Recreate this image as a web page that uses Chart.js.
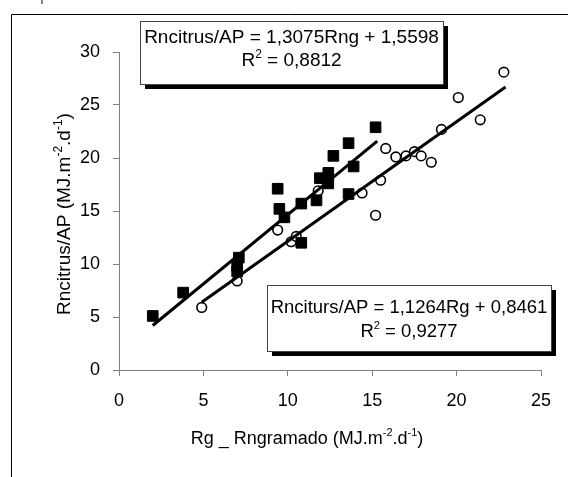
<!DOCTYPE html>
<html>
<head>
<meta charset="utf-8">
<script src="https://cdn.jsdelivr.net/npm/chart.js@4"></script>
<style>
html, body { margin: 0; padding: 0; background: #fff; }
#wrap { position: relative; width: 568px; height: 477px; }
</style>
</head>
<body>
<div id="wrap"><canvas id="rnChart" width="568" height="477"></canvas></div>
<script>
var xTicks = [0, 5, 10, 15, 20, 25];
var yTicks = [0, 5, 10, 15, 20, 25, 30];

// Rncitrus/AP x Rngramado (quadrados)
var rngX = [2.0, 3.8, 7.1, 7.0, 7.0, 9.4, 9.5, 9.8, 10.8, 10.8, 11.7, 11.9, 12.4, 12.4, 12.7, 13.6, 13.9, 13.6, 15.2];
var rngY = [5.1, 7.3, 10.6, 9.8, 9.3, 17.1, 15.2, 14.4, 15.7, 12.0, 16.0, 18.1, 18.6, 17.6, 20.2, 21.4, 19.2, 16.6, 22.9];

// Rncitrus/AP x Rg (circulos)
var rgX = [4.9, 7.0, 9.4, 10.2, 10.5, 11.8, 14.4, 15.2, 15.5, 15.8, 16.4, 17.0, 17.5, 17.9, 18.5, 19.1, 20.1, 21.4, 22.8];
var rgY = [5.9, 8.4, 13.2, 12.1, 12.6, 16.9, 16.7, 14.6, 17.9, 20.9, 20.1, 20.2, 20.6, 20.2, 19.6, 22.7, 25.7, 23.6, 28.1];

// linhas de tendencia (extremos)
var trendRngX = [2.0, 15.3];
var trendRngY = [4.2, 21.6];
var trendRgX = [4.9, 22.9];
var trendRgY = [6.4, 26.7];

var eqRng = ["Rncitrus/AP = 1,3075Rng + 1,5598", "0,8812"];
var eqRg = ["Rnciturs/AP = 1,1264Rg + 0,8461", "0,9277"];

function toPoints(xs, ys) {
    return xs.map(function (x, i) { return { x: x, y: ys[i] }; });
}

var FONT = "Arial, 'Liberation Sans', sans-serif";

// texto com expoentes: partes [texto, sobrescrito?]
function partsWidth(ctx, parts, size) {
    var w = 0;
    parts.forEach(function (p) {
        ctx.font = (p[1] ? Math.round(size * 0.62) : size) + "px " + FONT;
        w += ctx.measureText(p[0]).width;
    });
    return w;
}
function drawParts(ctx, parts, cx, y, size) {
    var x = cx - partsWidth(ctx, parts, size) / 2;
    ctx.textAlign = "left";
    ctx.textBaseline = "alphabetic";
    parts.forEach(function (p) {
        var s = p[1] ? Math.round(size * 0.62) : size;
        ctx.font = s + "px " + FONT;
        ctx.fillText(p[0], x, p[1] ? y - size * 0.42 : y);
        x += ctx.measureText(p[0]).width;
    });
}

function drawBox(ctx, x, y, w, h, lines, l1, l2, size) {
    ctx.save();
    ctx.fillStyle = "#000";
    ctx.fillRect(x + 5, y + 5, w, h);
    ctx.fillStyle = "#fff";
    ctx.fillRect(x, y, w, h);
    ctx.strokeStyle = "#444";
    ctx.lineWidth = 1;
    ctx.strokeRect(x + 0.5, y + 0.5, w, h);
    ctx.fillStyle = "#000";
    var cx = x + w / 2;
    drawParts(ctx, [[lines[0], false]], cx, y + l1, size);
    drawParts(ctx, [["R", false], ["2", true], [" = " + lines[1], false]], cx, y + l2, size);
    ctx.restore();
}

var decor = {
    id: "decor",
    beforeDraw: function (chart) {
        var ctx = chart.ctx;
        ctx.save();
        ctx.fillStyle = "#fff";
        ctx.fillRect(0, 0, chart.width, chart.height);
        // texto cortado acima do grafico
        ctx.fillStyle = "#666";
        ctx.font = "18px " + FONT;
        ctx.textAlign = "left";
        ctx.textBaseline = "alphabetic";
        ctx.fillText("procedimentos", 40, 0);
        // moldura
        ctx.strokeStyle = "#000";
        ctx.lineWidth = 1;
        ctx.beginPath();
        ctx.moveTo(11.5, 477);
        ctx.lineTo(11.5, 14.5);
        ctx.lineTo(568, 14.5);
        ctx.stroke();
        ctx.restore();
    },
    afterDraw: function (chart) {
        var ctx = chart.ctx;
        ctx.save();
        ctx.fillStyle = "#000";
        drawParts(ctx, [["Rg _ Rngramado (MJ.m", false], ["-2", true], [".d", false], ["-1", true], [")", false]], 307, 444, 18);
        ctx.translate(70, 214);
        ctx.rotate(-Math.PI / 2);
        drawParts(ctx, [["Rncitrus/AP (MJ.m", false], ["-2", true], [".d", false], ["-1", true], [")", false]], 0, 0, 19);
        ctx.restore();
        drawBox(ctx, 140, 21, 303, 63, eqRng, 22, 45, 19);
        drawBox(ctx, 267, 285, 284, 66, eqRg, 28, 52, 18.5);
    }
};

var ctx = document.getElementById("rnChart").getContext("2d");
var rnChart = new Chart(ctx, {
    type: "scatter",
    data: {
        datasets: [{
            type: "line",
            data: toPoints(trendRngX, trendRngY),
            borderColor: "#000",
            borderWidth: 3,
            pointRadius: 0,
            fill: false,
            order: 0
        }, {
            type: "line",
            data: toPoints(trendRgX, trendRgY),
            borderColor: "#000",
            borderWidth: 3,
            pointRadius: 0,
            fill: false,
            order: 0
        }, {
            data: toPoints(rngX, rngY),
            pointStyle: "rect",
            pointRadius: 7.5,
            backgroundColor: "#000",
            borderColor: "#000",
            borderWidth: 1,
            order: 1
        }, {
            data: toPoints(rgX, rgY),
            pointStyle: "circle",
            pointRadius: 4.8,
            backgroundColor: "#fff",
            borderColor: "#000",
            borderWidth: 1.6,
            order: 1
        }]
    },
    plugins: [decor],
    options: {
        responsive: false,
        animation: false,
        devicePixelRatio: 1,
        layout: { padding: { left: 0, right: 27, top: 52, bottom: 67 } },
        plugins: {
            legend: { display: false },
            tooltip: { enabled: false }
        },
        scales: {
            x: {
                type: "linear",
                min: 0,
                max: 25,
                afterFit: function (s) { s.height = 40; },
                afterBuildTicks: function (s) { s.ticks = xTicks.map(function (v) { return { value: v }; }); },
                ticks: { color: "#000", font: { family: FONT, size: 18 }, padding: 14 },
                grid: { drawOnChartArea: false, drawTicks: true, tickLength: 6, color: "#808080" },
                border: { color: "#808080", width: 1 }
            },
            y: {
                type: "linear",
                min: 0,
                max: 30,
                afterFit: function (s) { s.width = 119; },
                afterBuildTicks: function (s) { s.ticks = yTicks.map(function (v) { return { value: v }; }); },
                ticks: { color: "#000", font: { family: FONT, size: 18 }, padding: 13 },
                grid: { drawOnChartArea: false, drawTicks: true, tickLength: 6, color: "#808080" },
                border: { color: "#808080", width: 1 }
            }
        }
    }
});
</script>
</body>
</html>
